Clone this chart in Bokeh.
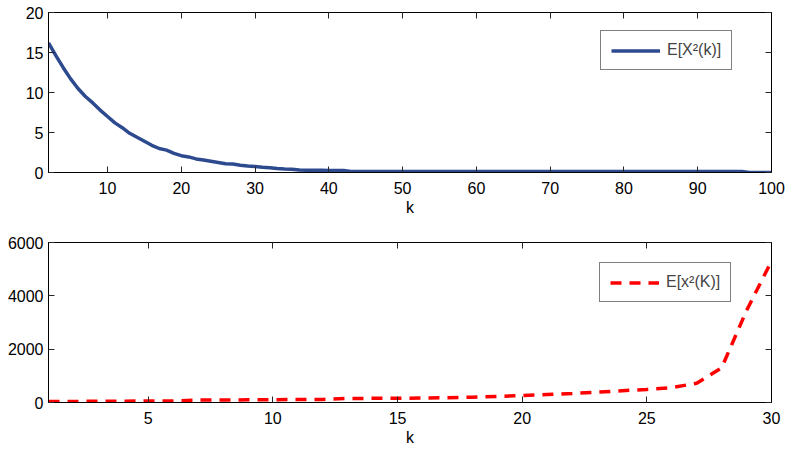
from bokeh.plotting import figure
from bokeh.layouts import column
from bokeh.models import (Range1d, LinearAxis, FixedTicker, Legend, LegendItem,
                          CustomJSTickFormatter)
from bokeh.embed import file_html
from bokeh.resources import INLINE

# ---- data ----
k_top = list(range(2, 101))
ex2_top = [16.2, 14.6, 13.1, 11.7, 10.5, 9.5, 8.7, 7.8, 7.0, 6.2,
           5.6, 4.9, 4.4, 3.9, 3.4, 3.0, 2.8, 2.4, 2.1, 1.95,
           1.7, 1.55, 1.4, 1.25, 1.1, 1.05, 0.9, 0.8, 0.75, 0.65,
           0.6, 0.5, 0.45, 0.42, 0.3, 0.28, 0.28, 0.27, 0.26, 0.25,
           0.24, 0.12, 0.12, 0.12, 0.12, 0.12, 0.12, 0.12, 0.12, 0.12,
           0.12, 0.12, 0.12, 0.12, 0.12, 0.12, 0.12, 0.12, 0.12, 0.12,
           0.12, 0.12, 0.12, 0.12, 0.12, 0.12, 0.12, 0.12, 0.12, 0.12,
           0.12, 0.12, 0.12, 0.12, 0.12, 0.12, 0.12, 0.12, 0.12, 0.12,
           0.12, 0.12, 0.12, 0.12, 0.12, 0.12, 0.12, 0.12, 0.12, 0.12,
           0.12, 0.12, 0.12, 0.12, 0.12, 0.0, 0.0, 0.0, 0.0]
k_bot = list(range(1, 31))
ex2_bot = [40, 40, 45, 50, 55, 60, 90, 95, 100, 105,
           110, 115, 150, 155, 160, 165, 180, 200, 230, 260,
           300, 340, 390, 440, 490, 560, 720, 1300, 3450, 5300]

top_xticks = [10, 20, 30, 40, 50, 60, 70, 80, 90, 100]
top_yticks = [0, 5, 10, 15, 20]
bot_xticks = [5, 10, 15, 20, 25, 30]
bot_yticks = [0, 2000, 4000, 6000]

FONT = "Liberation Sans"
FS = "16px"


def style_axis(ax, ticks, labels=True):
    ax.ticker = FixedTicker(ticks=ticks)
    ax.major_tick_in = 6
    ax.major_tick_out = 0
    ax.minor_tick_line_color = None
    ax.axis_line_color = "black"
    ax.major_tick_line_color = "#262626"
    ax.major_label_text_font = FONT
    ax.major_label_text_font_size = FS
    ax.major_label_text_color = "black"
    ax.axis_label_text_font = FONT
    ax.axis_label_text_font_size = FS
    ax.axis_label_text_font_style = "normal"
    ax.axis_label_text_color = "black"
    if not labels:
        ax.formatter = CustomJSTickFormatter(code="return ''")
        ax.major_label_standoff = 0


def make_fig(xr, yr, xticks, yticks, h, b_top, b_bot):
    p = figure(width=787, height=h, output_backend="svg", toolbar_location=None,
               x_range=Range1d(*xr), y_range=Range1d(*yr),
               min_border_left=48, min_border_right=16,
               min_border_top=b_top, min_border_bottom=b_bot)
    p.xgrid.visible = False
    p.ygrid.visible = False
    p.outline_line_color = "black"
    p.background_fill_color = "white"
    p.border_fill_color = "white"
    style_axis(p.xaxis[0], xticks)
    style_axis(p.yaxis[0], yticks)
    p.xaxis[0].major_label_standoff = 9
    p.xaxis[0].axis_label = "k"
    p.xaxis[0].axis_label_standoff = 2
    p.yaxis[0].major_label_standoff = 5
    ra = LinearAxis()
    style_axis(ra, yticks, labels=False)
    p.add_layout(ra, "right")
    ta = LinearAxis()
    style_axis(ta, xticks, labels=False)
    p.add_layout(ta, "above")
    return p


p1 = make_fig((2, 100), (0, 20), top_xticks, top_yticks, 225, 12, 53)
r1 = p1.line(k_top, ex2_top, line_color="#2E4A8F", line_width=3.5)
leg1 = Legend(items=[LegendItem(label="E[X²(k)]", renderers=[r1])],
              location=(552, 102))

p2 = make_fig((1, 30), (0, 6000), bot_xticks, bot_yticks, 225, 17, 48)
r2 = p2.line(k_bot, ex2_bot, line_color="red", line_width=3.5, line_dash="11 8")
leg2 = Legend(items=[LegendItem(label="E[x²(K)]", renderers=[r2])],
              location=(551, 100))

for p, leg in ((p1, leg1), (p2, leg2)):
    leg.padding = 10
    leg.margin = 0
    leg.glyph_width = 49
    leg.glyph_height = 17
    leg.label_standoff = 7
    leg.label_text_font = FONT
    leg.label_text_font_size = FS
    leg.border_line_color = "black"
    leg.border_line_width = 1
    leg.background_fill_color = "white"
    leg.background_fill_alpha = 1
    p.add_layout(leg, "center")

page = column(p1, p2, spacing=0)
open("out.html", "w").write(file_html(page, INLINE))
